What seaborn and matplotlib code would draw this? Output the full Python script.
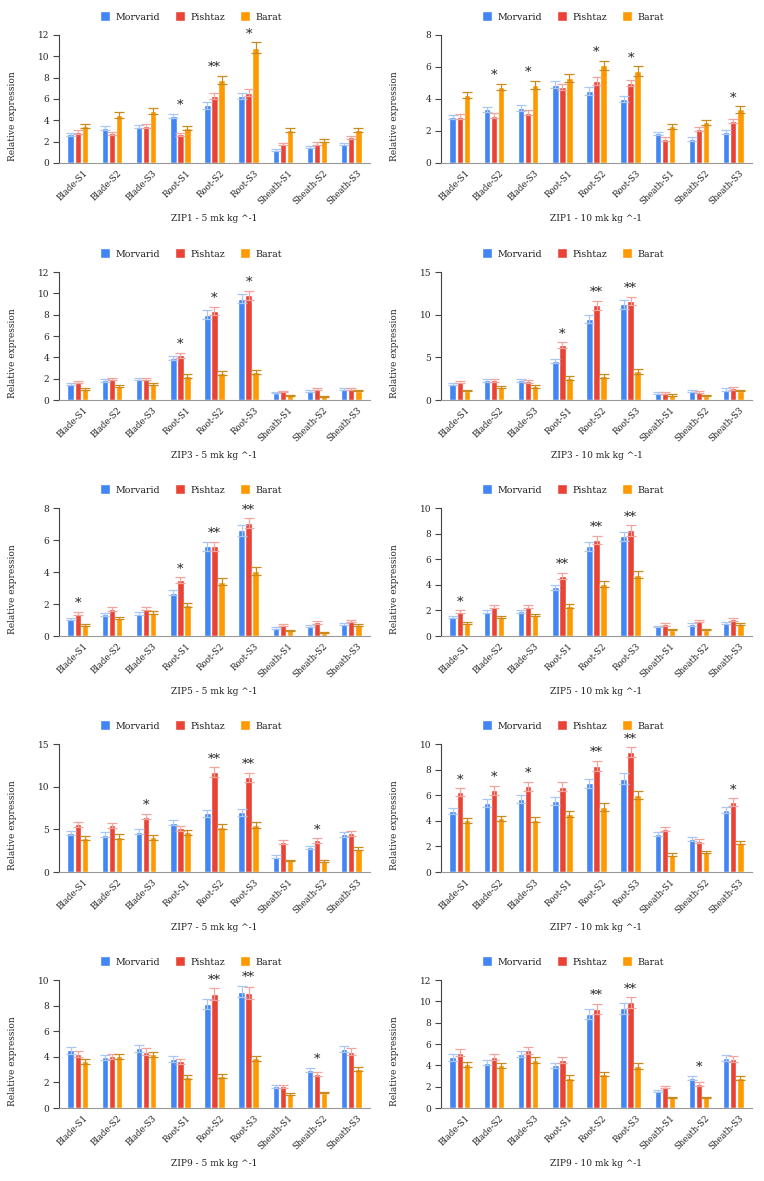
import numpy as np
import pandas as pd
import matplotlib
matplotlib.use("Agg")
import matplotlib.pyplot as plt
import matplotlib.transforms as mtransforms
from matplotlib.container import BarContainer
import seaborn as sns

categories = ["Blade-S1", "Blade-S2", "Blade-S3", "Root-S1", "Root-S2", "Root-S3",
              "Sheath-S1", "Sheath-S2", "Sheath-S3"]
cultivars = ["Morvarid", "Pishtaz", "Barat"]

titles = ["ZIP1 - 5 mk kg ^-1", "ZIP1 - 10 mk kg ^-1",
          "ZIP3 - 5 mk kg ^-1", "ZIP3 - 10 mk kg ^-1",
          "ZIP5 - 5 mk kg ^-1", "ZIP5 - 10 mk kg ^-1",
          "ZIP7 - 5 mk kg ^-1", "ZIP7 - 10 mk kg ^-1",
          "ZIP9 - 5 mk kg ^-1", "ZIP9 - 10 mk kg ^-1"]
y_max = [12, 8, 12, 15, 8, 10, 15, 10, 10, 12]
y_step = [2, 2, 2, 5, 2, 2, 5, 2, 2, 2]

# ---- values (Morvarid, Pishtaz, Barat) per panel ----
zip1_5_morvarid = [2.7, 3.3, 3.4, 4.4, 5.4, 6.3, 1.2, 1.5, 1.8]
zip1_5_pishtaz = [2.9, 2.8, 3.5, 2.7, 6.3, 6.6, 1.8, 1.8, 2.4]
zip1_5_barat = [3.5, 4.5, 4.9, 3.3, 7.8, 10.8, 3.1, 2.1, 3.1]

zip1_10_morvarid = [2.9, 3.35, 3.45, 4.9, 4.5, 4.0, 1.85, 1.5, 1.95]
zip1_10_pishtaz = [2.9, 2.95, 3.15, 4.75, 5.1, 5.0, 1.5, 2.1, 2.6]
zip1_10_barat = [4.25, 4.75, 4.9, 5.3, 6.1, 5.75, 2.3, 2.55, 3.35]

zip3_5_morvarid = [1.5, 1.85, 1.95, 3.95, 8.0, 9.5, 0.7, 0.85, 1.0]
zip3_5_pishtaz = [1.7, 2.0, 1.95, 4.2, 8.35, 9.8, 0.8, 1.05, 1.05]
zip3_5_barat = [1.0, 1.35, 1.5, 2.25, 2.5, 2.65, 0.45, 0.35, 0.85]

zip3_10_morvarid = [1.9, 2.3, 2.3, 4.6, 9.5, 11.2, 0.85, 1.05, 1.2]
zip3_10_pishtaz = [2.1, 2.3, 2.2, 6.4, 11.1, 11.6, 0.85, 0.95, 1.35]
zip3_10_barat = [1.1, 1.5, 1.6, 2.6, 2.85, 3.35, 0.6, 0.5, 1.1]

zip5_5_morvarid = [1.05, 1.35, 1.4, 2.7, 5.6, 6.6, 0.5, 0.65, 0.75]
zip5_5_pishtaz = [1.4, 1.7, 1.7, 3.5, 5.6, 7.05, 0.7, 0.85, 0.95]
zip5_5_barat = [0.7, 1.1, 1.45, 1.95, 3.4, 4.05, 0.35, 0.2, 0.7]

zip5_10_morvarid = [1.5, 1.9, 1.95, 3.8, 7.0, 7.8, 0.75, 0.9, 1.05]
zip5_10_pishtaz = [1.9, 2.3, 2.3, 4.7, 7.5, 8.25, 0.9, 1.2, 1.3]
zip5_10_barat = [1.0, 1.45, 1.65, 2.35, 4.05, 4.8, 0.5, 0.5, 0.95]

zip7_5_morvarid = [4.6, 4.35, 4.7, 5.8, 6.9, 7.0, 1.8, 2.9, 4.4]
zip7_5_pishtaz = [5.6, 5.5, 6.5, 5.1, 11.7, 11.1, 3.5, 3.7, 4.55]
zip7_5_barat = [4.0, 4.15, 4.05, 4.65, 5.3, 5.5, 1.35, 1.3, 2.75]

zip7_10_morvarid = [4.75, 5.4, 5.7, 5.55, 6.95, 7.3, 3.0, 2.55, 4.85]
zip7_10_pishtaz = [6.25, 6.4, 6.7, 6.65, 8.3, 9.35, 3.35, 2.4, 5.45]
zip7_10_barat = [4.05, 4.2, 4.1, 4.55, 5.1, 6.0, 1.35, 1.55, 2.3]

zip9_5_morvarid = [4.5, 3.95, 4.65, 3.85, 8.1, 9.1, 1.7, 3.0, 4.6]
zip9_5_pishtaz = [4.2, 4.05, 4.4, 3.65, 8.9, 9.0, 1.7, 2.65, 4.4]
zip9_5_barat = [3.65, 4.05, 4.2, 2.4, 2.5, 3.9, 1.1, 1.2, 3.05]

zip9_10_morvarid = [4.75, 4.25, 5.05, 4.0, 8.8, 9.35, 1.6, 2.8, 4.7]
zip9_10_pishtaz = [5.2, 4.8, 5.4, 4.5, 9.3, 9.9, 1.95, 2.25, 4.6]
zip9_10_barat = [4.1, 4.0, 4.5, 2.85, 3.2, 3.95, 1.0, 1.0, 2.8]

# ---- error bars ----
zip1_5_err = [[0.15, 0.2, 0.15, 0.2, 0.3, 0.3, 0.1, 0.1, 0.1],
              [0.15, 0.15, 0.2, 0.15, 0.3, 0.35, 0.1, 0.15, 0.15],
              [0.2, 0.25, 0.3, 0.2, 0.4, 0.5, 0.2, 0.15, 0.2]]
zip1_10_err = [[0.12, 0.15, 0.2, 0.2, 0.25, 0.2, 0.1, 0.1, 0.12],
               [0.15, 0.15, 0.15, 0.2, 0.25, 0.2, 0.1, 0.12, 0.12],
               [0.2, 0.2, 0.25, 0.25, 0.3, 0.3, 0.15, 0.15, 0.2]]
zip3_5_err = [[0.1, 0.12, 0.12, 0.2, 0.45, 0.45, 0.05, 0.08, 0.08],
              [0.1, 0.1, 0.12, 0.25, 0.4, 0.45, 0.05, 0.08, 0.1],
              [0.08, 0.1, 0.1, 0.15, 0.2, 0.2, 0.05, 0.05, 0.05]]
zip3_10_err = [[0.15, 0.15, 0.15, 0.25, 0.5, 0.5, 0.1, 0.1, 0.15],
               [0.15, 0.15, 0.15, 0.35, 0.5, 0.5, 0.1, 0.1, 0.15],
               [0.1, 0.1, 0.15, 0.2, 0.25, 0.3, 0.08, 0.08, 0.1]]
zip5_5_err = [[0.08, 0.1, 0.1, 0.15, 0.3, 0.35, 0.05, 0.06, 0.08],
              [0.1, 0.12, 0.1, 0.18, 0.3, 0.3, 0.06, 0.08, 0.08],
              [0.06, 0.06, 0.1, 0.12, 0.2, 0.25, 0.04, 0.04, 0.05]]
zip5_10_err = [[0.1, 0.12, 0.12, 0.2, 0.35, 0.35, 0.06, 0.08, 0.08],
               [0.1, 0.12, 0.12, 0.22, 0.35, 0.4, 0.08, 0.08, 0.1],
               [0.06, 0.08, 0.1, 0.15, 0.25, 0.3, 0.04, 0.05, 0.06]]
zip7_5_err = [[0.25, 0.3, 0.3, 0.35, 0.4, 0.4, 0.15, 0.2, 0.25],
              [0.3, 0.3, 0.3, 0.3, 0.55, 0.55, 0.2, 0.25, 0.3],
              [0.25, 0.25, 0.25, 0.3, 0.3, 0.35, 0.1, 0.1, 0.15]]
zip7_10_err = [[0.25, 0.3, 0.3, 0.3, 0.35, 0.4, 0.15, 0.15, 0.25],
               [0.3, 0.35, 0.35, 0.35, 0.4, 0.4, 0.15, 0.15, 0.3],
               [0.2, 0.2, 0.2, 0.25, 0.3, 0.3, 0.1, 0.1, 0.15]]
zip9_5_err = [[0.25, 0.2, 0.25, 0.25, 0.4, 0.45, 0.1, 0.15, 0.25],
              [0.25, 0.2, 0.25, 0.2, 0.45, 0.45, 0.1, 0.15, 0.25],
              [0.2, 0.2, 0.2, 0.15, 0.15, 0.2, 0.06, 0.06, 0.15]]
zip9_10_err = [[0.3, 0.25, 0.3, 0.25, 0.45, 0.5, 0.1, 0.2, 0.25],
               [0.3, 0.3, 0.3, 0.25, 0.45, 0.5, 0.12, 0.15, 0.25],
               [0.25, 0.25, 0.3, 0.2, 0.2, 0.25, 0.06, 0.06, 0.2]]

# ---- significance marks ----
zip1_5_sig = ["", "", "", "*", "**", "*", "", "", ""]
zip1_10_sig = ["", "*", "*", "", "*", "*", "", "", "*"]
zip3_5_sig = ["", "", "", "*", "*", "*", "", "", ""]
zip3_10_sig = ["", "", "", "*", "**", "**", "", "", ""]
zip5_5_sig = ["*", "", "", "*", "**", "**", "", "", ""]
zip5_10_sig = ["*", "", "", "**", "**", "**", "", "", ""]
zip7_5_sig = ["", "", "*", "", "**", "**", "", "*", ""]
zip7_10_sig = ["*", "*", "*", "", "**", "**", "", "", "*"]
zip9_5_sig = ["", "", "", "", "**", "**", "", "*", ""]
zip9_10_sig = ["", "", "", "", "**", "**", "", "*", ""]

panels = [
    ([zip1_5_morvarid, zip1_5_pishtaz, zip1_5_barat], zip1_5_err, zip1_5_sig),
    ([zip1_10_morvarid, zip1_10_pishtaz, zip1_10_barat], zip1_10_err, zip1_10_sig),
    ([zip3_5_morvarid, zip3_5_pishtaz, zip3_5_barat], zip3_5_err, zip3_5_sig),
    ([zip3_10_morvarid, zip3_10_pishtaz, zip3_10_barat], zip3_10_err, zip3_10_sig),
    ([zip5_5_morvarid, zip5_5_pishtaz, zip5_5_barat], zip5_5_err, zip5_5_sig),
    ([zip5_10_morvarid, zip5_10_pishtaz, zip5_10_barat], zip5_10_err, zip5_10_sig),
    ([zip7_5_morvarid, zip7_5_pishtaz, zip7_5_barat], zip7_5_err, zip7_5_sig),
    ([zip7_10_morvarid, zip7_10_pishtaz, zip7_10_barat], zip7_10_err, zip7_10_sig),
    ([zip9_5_morvarid, zip9_5_pishtaz, zip9_5_barat], zip9_5_err, zip9_5_sig),
    ([zip9_10_morvarid, zip9_10_pishtaz, zip9_10_barat], zip9_10_err, zip9_10_sig),
]

bar_colors = ["#4285F4", "#EA4335", "#FF9900"]
err_colors = ["#A9C8F7", "#F2A59C", "#C98A1E"]

sns.set_theme(style="white")
plt.rcParams["font.family"] = ["DejaVu Serif"]
plt.rcParams["text.color"] = "#222222"

W, H = 764, 1181
fig = plt.figure(figsize=(W / 100, H / 100), dpi=100)

col_left = [59, 441]
ax_w = 311
row_top = [35, 272, 508, 744, 980]
ax_h = 128

for idx, (vals, errs, sig) in enumerate(panels):
    r, c = divmod(idx, 2)
    left = col_left[c] / W
    bottom = 1 - (row_top[r] + ax_h) / H
    ax = fig.add_axes([left, bottom, ax_w / W, ax_h / H])

    rows = []
    for k, cv in enumerate(cultivars):
        for j, cat in enumerate(categories):
            rows.append({"category": cat, "cultivar": cv,
                         "value": vals[k][j], "err": errs[k][j]})
    df = pd.DataFrame(rows)

    sns.barplot(data=df, x="category", y="value", hue="cultivar",
                hue_order=cultivars, order=categories,
                palette=bar_colors, errorbar=None, width=0.62, gap=0.08,
                saturation=1, ax=ax)

    bar_conts = [cn for cn in ax.containers if isinstance(cn, BarContainer)]
    for k, cont in enumerate(bar_conts):
        xs = [b.get_x() + b.get_width() / 2 for b in cont]
        ys = [b.get_height() for b in cont]
        ax.errorbar(xs, ys, yerr=errs[k], fmt="none", ecolor=err_colors[k],
                    elinewidth=0.9, capsize=3.4, capthick=0.9, zorder=3)

    ym = y_max[idx]
    for j, s in enumerate(sig):
        if s:
            top = max(vals[k][j] + errs[k][j] for k in range(3))
            ax.text(j, top + ym * 0.012, s, ha="center", va="bottom",
                    fontsize=9.5, color="#222222")

    ax.set_ylim(0, ym)
    ax.set_xlim(-0.55, 8.55)
    ax.set_yticks(np.arange(0, ym + 0.01, y_step[idx]))
    ax.tick_params(axis="y", labelsize=6.5, length=4, width=0.8,
                   color="#444444", left=True, pad=3)
    ax.tick_params(axis="x", labelsize=6.2, length=0, pad=4)
    shift = mtransforms.ScaledTranslation(4 / 72, 0, fig.dpi_scale_trans)
    for lbl in ax.get_xticklabels():
        lbl.set_rotation(45)
        lbl.set_ha("right")
        lbl.set_rotation_mode("anchor")
        lbl.set_transform(lbl.get_transform() + shift)

    for sp in ["top", "right"]:
        ax.spines[sp].set_visible(False)
    ax.spines["left"].set_color("#444444")
    ax.spines["left"].set_linewidth(0.8)
    ax.spines["bottom"].set_color("#999999")
    ax.spines["bottom"].set_linewidth(0.8)

    ax.set_xlabel("")
    ax.set_ylabel("Relative expression", fontsize=6.5)
    ax.yaxis.set_label_coords(-0.135, 0.37)
    ax.text(0.5, -0.43, titles[idx], transform=ax.transAxes, ha="center",
            va="center", fontsize=6.5)

    handles, labels = ax.get_legend_handles_labels()
    leg = ax.legend(handles, labels, loc="center", bbox_to_anchor=(0.424, 1.14),
                    ncol=3, frameon=False, fontsize=6.8, handlelength=1.0,
                    handleheight=1.0, handletextpad=0.6, columnspacing=1.6)
    for h in leg.legend_handles:
        h.set_height(7)
        h.set_width(7)

fig.savefig("out.png", dpi=100)
